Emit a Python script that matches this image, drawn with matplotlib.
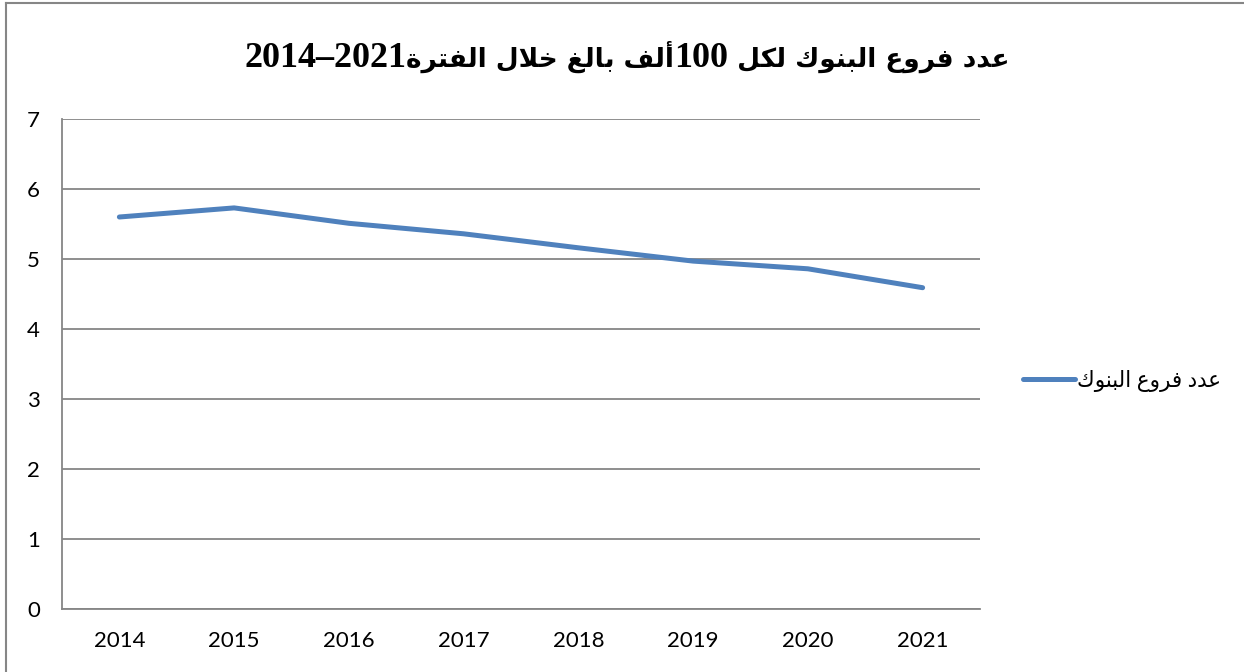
import re
import matplotlib
matplotlib.use('Agg')
import matplotlib.pyplot as plt
from matplotlib.lines import Line2D

years = ['2014', '2015', '2016', '2017', '2018', '2019', '2020', '2021']
branches = [5.60, 5.73, 5.51, 5.36, 5.16, 4.97, 4.86, 4.59]
series_name = 'عدد فروع البنوك'
title_text = 'عدد فروع البنوك لكل 100ألف بالغ خلال الفترة2014–2021'

# presentation forms: (isolated, final[, initial, medial])
FORMS = {
    'ا': ('\uFE8D', '\uFE8E'),
    'أ': ('\uFE83', '\uFE84'),
    'د': ('\uFEA9', '\uFEAA'),
    'ر': ('\uFEAD', '\uFEAE'),
    'و': ('\uFEED', '\uFEEE'),
    'ة': ('\uFE93', '\uFE94'),
    'ب': ('\uFE8F', '\uFE90', '\uFE91', '\uFE92'),
    'ت': ('\uFE95', '\uFE96', '\uFE97', '\uFE98'),
    'خ': ('\uFEA5', '\uFEA6', '\uFEA7', '\uFEA8'),
    'ع': ('\uFEC9', '\uFECA', '\uFECB', '\uFECC'),
    'غ': ('\uFECD', '\uFECE', '\uFECF', '\uFED0'),
    'ف': ('\uFED1', '\uFED2', '\uFED3', '\uFED4'),
    'ك': ('\uFED9', '\uFEDA', '\uFEDB', '\uFEDC'),
    'ل': ('\uFEDD', '\uFEDE', '\uFEDF', '\uFEE0'),
    'ن': ('\uFEE5', '\uFEE6', '\uFEE7', '\uFEE8'),
    'لا': ('\uFEFB', '\uFEFC'),
    'لأ': ('\uFEF7', '\uFEF8'),
}


def shape_word(word):
    tokens = []
    i = 0
    while i < len(word):
        if word[i] == 'ل' and i + 1 < len(word) and word[i + 1] in 'اأ':
            tokens.append(word[i:i + 2])
            i += 2
        else:
            tokens.append(word[i])
            i += 1
    out = []
    for j, t in enumerate(tokens):
        if t not in FORMS:
            out.append(t)
            continue
        prev = j > 0 and tokens[j - 1] in FORMS and len(FORMS[tokens[j - 1]]) == 4
        nxt = j < len(tokens) - 1 and tokens[j + 1] in FORMS
        f = FORMS[t]
        if len(f) == 4:
            idx = {(False, False): 0, (True, False): 1, (False, True): 2, (True, True): 3}[(prev, nxt)]
        else:
            idx = 1 if prev else 0
        out.append(f[idx])
    return ''.join(out)


def visual_runs(text):
    # shape arabic runs and reverse them, number runs stay left-to-right
    runs = [r for r in re.split(r'([0-9\-–]+)', text) if r]
    res = []
    for r in runs:
        if re.fullmatch(r'[0-9\-–]+', r):
            res.append((r, True))
        else:
            res.append((' '.join(shape_word(w) for w in r.split(' '))[::-1], False))
    return res[::-1]


def visual(text):
    return ''.join(r for r, _ in visual_runs(text))


fig = plt.figure(figsize=(12.44, 6.72), dpi=100)
ax = fig.add_axes([62 / 1244, 1 - 609 / 672, (980 - 62) / 1244, (609 - 119) / 672])

ax.plot(range(len(years)), branches, color='#4F81BD', linewidth=3.6,
        solid_capstyle='round', label=visual(series_name))

ax.set_xlim(-0.5, len(years) - 0.5)
ax.set_ylim(0, 7)
ax.set_yticks(range(0, 8))
ax.set_xticks(range(len(years)))
ax.set_xticklabels(years)
ax.grid(axis='y', color='#868686', linewidth=1.3)
ax.set_axisbelow(True)
for s in ['top', 'right']:
    ax.spines[s].set_visible(False)
for s in ['left', 'bottom']:
    ax.spines[s].set_color('#868686')
    ax.spines[s].set_linewidth(1.3)
ax.tick_params(length=0, labelsize=16, pad=16)
for lab in ax.get_xticklabels() + ax.get_yticklabels():
    lab.set_family(['Lato', 'DejaVu Sans'])

leg = ax.legend(loc='center left', bbox_to_anchor=(1004 / 1244, 1 - 381 / 672),
                bbox_transform=fig.transFigure, frameon=False, handlelength=2.4,
                handletextpad=0.1, prop={'family': ['Lato', 'DejaVu Sans'], 'size': 15.5})

# title: pieces laid out side by side (numbers in serif, arabic in DejaVu Sans)
renderer = fig.canvas.get_renderer()
pieces = []
for txt, is_num in visual_runs(title_text):
    if is_num:
        t = fig.text(0, 1 - 67 / 672, txt, ha='left', va='baseline', fontsize=26,
                     fontweight='bold', family='Liberation Serif')
    else:
        t = fig.text(0, 1 - 67 / 672, txt, ha='left', va='baseline', fontsize=19,
                     fontweight='bold', family='DejaVu Sans')
    pieces.append(t)
widths = [p.get_window_extent(renderer).width for p in pieces]
x = 627 - sum(widths) / 2
for p, w in zip(pieces, widths):
    p.set_x(x / 1244)
    x += w

# chart frame
fig.add_artist(Line2D([6 / 1244, 6 / 1244], [0, 1 - 3 / 672], color='#868686', linewidth=1.5))
fig.add_artist(Line2D([6 / 1244, 1], [1 - 3 / 672, 1 - 3 / 672], color='#868686', linewidth=1.5))

fig.savefig('out.png', dpi=100)
plt.close(fig)
